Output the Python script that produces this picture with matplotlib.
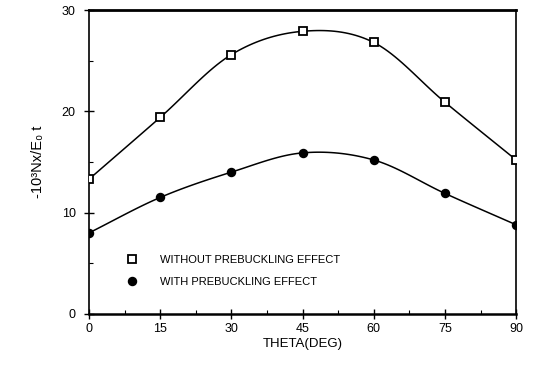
import numpy as np
import matplotlib
matplotlib.use("Agg")
import matplotlib.pyplot as plt
from matplotlib.lines import Line2D

plt.rcParams['font.family'] = ['Liberation Sans', 'DejaVu Sans']

theta = [0, 15, 30, 45, 60, 75, 90]
without_pre = [13.3, 19.4, 25.6, 27.9, 26.8, 20.9, 15.2]
with_pre = [8.0, 11.5, 14.0, 15.9, 15.2, 11.9, 8.8]
xticks = [0, 15, 30, 45, 60, 75, 90]
yticks = [0, 10, 20, 30]
labels = ["WITHOUT PREBUCKLING EFFECT", "WITH PREBUCKLING EFFECT"]


def smooth(x, y, n=20):
    # Catmull-Rom curve drawn through the data points (rendering only)
    x = np.asarray(x, float)
    y = np.asarray(y, float)
    px = np.concatenate([[2 * x[0] - x[1]], x, [2 * x[-1] - x[-2]]])
    py = np.concatenate([[2 * y[0] - y[1]], y, [2 * y[-1] - y[-2]]])
    xs, ys = [], []
    t = np.linspace(0, 1, n, endpoint=False)
    for i in range(1, len(px) - 2):
        for p, out in ((px, xs), (py, ys)):
            p0, p1, p2, p3 = p[i - 1], p[i], p[i + 1], p[i + 2]
            out.extend(0.5 * ((2 * p1) + (-p0 + p2) * t
                              + (2 * p0 - 5 * p1 + 4 * p2 - p3) * t ** 2
                              + (-p0 + 3 * p1 - 3 * p2 + p3) * t ** 3))
    xs.append(x[-1])
    ys.append(y[-1])
    return np.array(xs), np.array(ys)


fig = plt.figure(figsize=(5.36, 3.72), dpi=100)
ax = fig.add_axes([0.166, 0.156, 0.797, 0.817])

for yv, mk, fc, ms in ((without_pre, 's', 'white', 6), (with_pre, 'o', 'black', 5.5)):
    sx, sy = smooth(theta, yv)
    ax.plot(sx, sy, color='black', lw=1.1, zorder=2)
    ax.plot(theta, yv, linestyle='none', marker=mk, ms=ms, mfc=fc,
            mec='black', mew=1.3, zorder=3)

ax.set_xlim(0, 90)
ax.set_ylim(0, 30)
ax.set_xticks(xticks)
ax.set_xticklabels([str(v) for v in xticks])
ax.set_yticks(yticks)
ax.set_yticklabels([str(v) for v in yticks])
ax.set_xticks(np.arange(7.5, 90, 15), minor=True)
ax.set_yticks([5, 15, 25], minor=True)
ax.tick_params(axis='both', which='major', direction='inout', length=7,
               width=1.0, labelsize=9, pad=3)
ax.tick_params(axis='y', which='major', pad=6)
ax.tick_params(axis='both', which='minor', direction='in', length=3, width=0.8)
ax.tick_params(top=False, right=False, which='both')
for s in ax.spines.values():
    s.set_linewidth(1.2)
ax.spines['top'].set_linewidth(2.0)
ax.spines['bottom'].set_linewidth(1.8)

ax.set_xlabel("THETA(DEG)", fontsize=9.5, labelpad=2)
ax.set_ylabel("-10³Nx/E₀ t", fontsize=10.5, labelpad=12)

handles = [Line2D([], [], linestyle='none', marker='s', ms=6, mfc='white',
                  mec='black', mew=1.3),
           Line2D([], [], linestyle='none', marker='o', ms=5.5, mfc='black',
                  mec='black', mew=1.3)]
ax.legend(handles, labels, loc='lower left', bbox_to_anchor=(0.065, 0.055),
          frameon=False, fontsize=8, handletextpad=2.0, labelspacing=1.1,
          handlelength=1.0)

fig.savefig("out.png", dpi=100)
